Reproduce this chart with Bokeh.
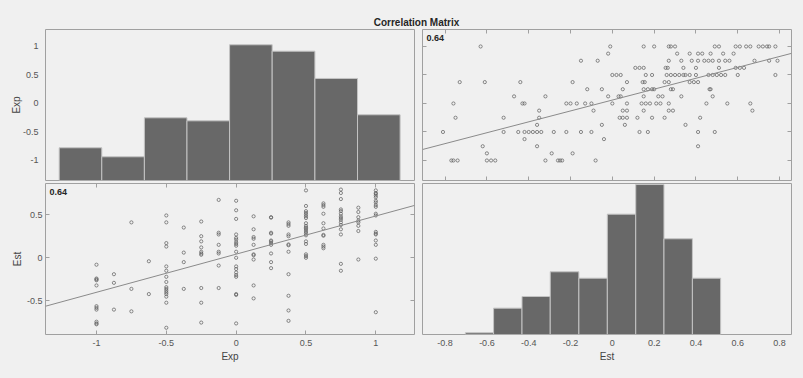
import numpy as np
from bokeh.plotting import figure
from bokeh.layouts import column, row
from bokeh.models import Range1d, LinearAxis, FixedTicker, Label
from bokeh.embed import file_html
from bokeh.resources import INLINE
from bokeh.core.validation import silence
from bokeh.core.validation.warnings import MISSING_RENDERERS

silence(MISSING_RENDERERS, True)

# ---------------- data ----------------
var_names = ["Exp", "Est"]
title_text = "Correlation Matrix"
corr_text = "0.64"

exp_scores = [
    -1, -1, -1, -1, -1, -1, -1, -1, -1, -1, -1,
    -0.875, -0.875, -0.875,
    -0.75, -0.75, -0.75,
    -0.625, -0.625,
    -0.5, -0.5, -0.5, -0.5, -0.5, -0.5, -0.5, -0.5, -0.5, -0.5, -0.5, -0.5, -0.5, -0.5, -0.5, -0.5,
    -0.375, -0.375, -0.375, -0.375,
    -0.25, -0.25, -0.25, -0.25, -0.25, -0.25, -0.25, -0.25, -0.25, -0.25,
    -0.125, -0.125, -0.125, -0.125, -0.125, -0.125, -0.125, -0.125,
    0, 0, 0, 0, 0, 0, 0, 0, 0, 0, 0, 0, 0, 0, 0, 0, 0, 0, 0,
    0.125, 0.125, 0.125, 0.125, 0.125, 0.125, 0.125, 0.125, 0.125, 0.125,
    0.25, 0.25, 0.25, 0.25, 0.25, 0.25, 0.25, 0.25, 0.25, 0.25, 0.25,
    0.375, 0.375, 0.375, 0.375, 0.375, 0.375, 0.375, 0.375, 0.375, 0.375, 0.375, 0.375,
    0.5, 0.5, 0.5, 0.5, 0.5, 0.5, 0.5, 0.5, 0.5, 0.5, 0.5, 0.5, 0.5, 0.5, 0.5, 0.5, 0.5, 0.5, 0.5, 0.5,
    0.625, 0.625, 0.625, 0.625, 0.625, 0.625, 0.625, 0.625, 0.625, 0.625, 0.625,
    0.75, 0.75, 0.75, 0.75, 0.75, 0.75, 0.75, 0.75, 0.75, 0.75, 0.75, 0.75, 0.75, 0.75, 0.75,
    0.875, 0.875, 0.875, 0.875, 0.875, 0.875, 0.875, 0.875,
    1, 1, 1, 1, 1, 1, 1, 1, 1, 1, 1, 1, 1, 1, 1, 1, 1, 1,
]

est_scores = [
    -0.08, -0.24, -0.25, -0.26, -0.32, -0.56, -0.58, -0.60, -0.74, -0.76, -0.77,
    -0.19, -0.29, -0.60,
    0.41, -0.36, -0.62,
    -0.04, -0.42,
    0.49, 0.41, 0.17, 0.13, -0.10, -0.15, -0.22, -0.28, -0.34, -0.36, -0.38, -0.40, -0.42, -0.45, -0.52, -0.81,
    0.35, 0.06, -0.05, -0.36,
    0.42, 0.25, 0.19, 0.12, 0.07, 0.05, 0.035, -0.35, -0.52, -0.75,
    0.67, 0.29, 0.27, 0.15, 0.07, 0.05, -0.09, -0.35,
    0.66, 0.55, 0.45, 0.27, 0.23, 0.21, 0.18, 0.16, 0.14, 0.07, 0.00, -0.10, -0.13, -0.17, -0.20, -0.22, -0.42, -0.43, -0.76,
    0.48, 0.33, 0.24, 0.22, 0.15, 0.04, 0.03, -0.02, -0.32, -0.47,
    0.47, 0.465, 0.29, 0.28, 0.20, 0.19, 0.17, 0.15, 0.05, -0.05, -0.12,
    0.41, 0.39, 0.37, 0.27, 0.25, 0.155, 0.145, 0.07, -0.19, -0.44, -0.61, -0.73,
    0.78, 0.60, 0.54, 0.52, 0.50, 0.48, 0.46, 0.40, 0.37, 0.35, 0.34, 0.32, 0.30, 0.28, 0.26, 0.19, 0.16, 0.04, 0.02, 0.00,
    0.63, 0.61, 0.59, 0.51, 0.40, 0.34, 0.265, 0.255, 0.15, 0.13, 0.11,
    0.79, 0.75, 0.68, 0.56, 0.54, 0.51, 0.48, 0.46, 0.44, 0.41, 0.38, 0.33, 0.27, -0.07, -0.15,
    0.58, 0.53, 0.47, 0.43, 0.41, 0.37, 0.31, -0.02,
    0.78, 0.75, 0.74, 0.72, 0.70, 0.66, 0.64, 0.61, 0.59, 0.51, 0.49, 0.30, 0.28, 0.27, 0.20, 0.15, -0.01, -0.63,
]

exp_ticks = [-1, -0.5, 0, 0.5, 1]
est_ticks = [-0.8, -0.6, -0.4, -0.2, 0, 0.2, 0.4, 0.6, 0.8]
est_row_ticks = [-0.5, 0, 0.5]

exp_bin_edges = [-1.267, -0.962, -0.657, -0.352, -0.047, 0.258, 0.564, 0.869, 1.174]
exp_hist_top = [-0.777, -0.935, -0.251, -0.304, 1.03, 0.918, 0.439, -0.198]

est_bin_edges = [-0.703, -0.568, -0.432, -0.297, -0.160, -0.024, 0.112, 0.247, 0.383, 0.518]
est_hist_top = [-0.868, -0.583, -0.448, -0.162, -0.236, 0.505, 0.848, 0.220, -0.236]

# axis limits
exp_x_lim = (-1.365, 1.277)
exp_y_lim = (-1.351, 1.298)
est_x_lim = (-0.908, 0.857)
est_y_lim = (-0.888, 0.860)

# ---------------- style ----------------
BG = "#f0f0f0"
FRAME = "#a0a0a0"
TICK_COL = "#a0a0a0"
LABEL_COL = "#555555"
AXLABEL_COL = "#444444"
DARK = "#262626"
BAR_FILL = "#686868"
BAR_EDGE = "#c4c4c4"
PT_COL = "#5a5a5a"
FIT_COL = "#8a8a8a"
FONT = "Liberation Sans"


def make_fig(w, h, xl, yl, bl, br, bt, bb):
    p = figure(width=w, height=h, x_range=Range1d(*xl), y_range=Range1d(*yl),
               output_backend="svg", toolbar_location=None,
               x_axis_type=None, y_axis_type=None,
               min_border_left=bl, min_border_right=br,
               min_border_top=bt, min_border_bottom=bb)
    p.background_fill_color = BG
    p.border_fill_color = BG
    p.outline_line_color = FRAME
    p.outline_line_width = 1
    return p


def add_axis(p, side, ticks, show_labels=False, marks=True, axis_label=None,
             standoff=5, label_standoff=2, font_size="9px"):
    ax = LinearAxis(ticker=FixedTicker(ticks=ticks))
    ax.axis_line_color = None
    ax.major_tick_in = 4 if marks else 0
    ax.major_tick_out = 0
    ax.minor_tick_in = 0
    ax.minor_tick_out = 0
    ax.major_tick_line_color = TICK_COL if marks else None
    if show_labels:
        ax.major_label_text_font = FONT
        ax.major_label_text_font_size = font_size
        ax.major_label_text_color = LABEL_COL
        ax.major_label_standoff = standoff
        ax.major_label_overrides = {t: f"{t:g}" for t in ticks}
    else:
        ax.major_label_text_font_size = "0px"
        ax.major_label_text_alpha = 0
        ax.major_label_standoff = 0
    if axis_label:
        ax.axis_label = axis_label
        ax.axis_label_text_font = FONT
        ax.axis_label_text_font_size = "10px"
        ax.axis_label_text_font_style = "normal"
        ax.axis_label_text_color = AXLABEL_COL
        ax.axis_label_standoff = label_standoff
    p.add_layout(ax, side)
    return ax


def add_corr_label(p):
    lab = Label(x=p.x_range.start, y=p.y_range.end, x_offset=4, y_offset=-5,
                text=corr_text, text_font=FONT, text_font_size="9px",
                text_font_style="bold", text_color=DARK, text_baseline="top")
    p.add_layout(lab)


def add_fit(p, xs, ys):
    slope, intercept = np.polyfit(xs, ys, 1)
    x0, x1 = p.x_range.start, p.x_range.end
    p.line([x0, x1], [intercept + slope * x0, intercept + slope * x1],
           line_color=FIT_COL, line_width=1)


# ---------------- title ----------------
tp = figure(width=795, height=28, output_backend="svg", toolbar_location=None,
            x_axis_type=None, y_axis_type=None, title=title_text,
            min_border_left=41, min_border_right=4, min_border_top=27, min_border_bottom=0)
tp.title.align = "center"
tp.title.text_font = FONT
tp.title.text_font_size = "10px"
tp.title.text_font_style = "bold"
tp.title.text_color = DARK
tp.title.standoff = 0
tp.outline_line_color = None
tp.background_fill_color = BG
tp.border_fill_color = BG

# ---------------- top-left: histogram of Exp ----------------
tl = make_fig(418, 153, exp_x_lim, exp_y_lim, 45, 4, 1, 1)
tl.quad(left=exp_bin_edges[:-1], right=exp_bin_edges[1:], top=exp_hist_top,
        bottom=tl.y_range.start, fill_color=BAR_FILL, line_color=BAR_EDGE, line_width=1)
add_axis(tl, "left", exp_ticks, show_labels=True, marks=False, axis_label=var_names[0],
         standoff=7, label_standoff=-2)

# ---------------- top-right: Exp vs Est ----------------
tr = make_fig(377, 153, est_x_lim, exp_y_lim, 4, 4, 1, 1)
tr.scatter(est_scores, exp_scores, marker="circle", size=3.2, fill_color=None,
           line_color=PT_COL, line_width=0.7)
add_fit(tr, est_scores, exp_scores)
for side in ("below", "above"):
    add_axis(tr, side, est_ticks)
for side in ("left", "right"):
    add_axis(tr, side, exp_ticks)
add_corr_label(tr)

# ---------------- bottom-left: Est vs Exp ----------------
bl = make_fig(418, 188, exp_x_lim, est_y_lim, 45, 4, 2, 35)
bl.scatter(exp_scores, est_scores, marker="circle", size=3.2, fill_color=None,
           line_color=PT_COL, line_width=0.7)
add_fit(bl, exp_scores, est_scores)
add_axis(bl, "below", exp_ticks, show_labels=True, axis_label=var_names[0],
         standoff=5, label_standoff=2)
add_axis(bl, "above", exp_ticks)
add_axis(bl, "left", est_row_ticks, show_labels=True, axis_label=var_names[1],
         standoff=3, label_standoff=1)
add_axis(bl, "right", est_row_ticks)
add_corr_label(bl)

# ---------------- bottom-right: histogram of Est ----------------
br = make_fig(377, 188, est_x_lim, est_y_lim, 4, 4, 2, 35)
br.quad(left=est_bin_edges[:-1], right=est_bin_edges[1:], top=est_hist_top,
        bottom=br.y_range.start, fill_color=BAR_FILL, line_color=BAR_EDGE, line_width=1)
add_axis(br, "below", est_ticks, show_labels=True, marks=False, axis_label=var_names[1],
         standoff=5, label_standoff=2)

layout = column(tp, row(tl, tr), row(bl, br))

html = file_html(layout, INLINE)
html = html.replace("</head>", "<style>body{background-color:#f0f0f0;}</style></head>", 1)
open("out.html", "w").write(html)
